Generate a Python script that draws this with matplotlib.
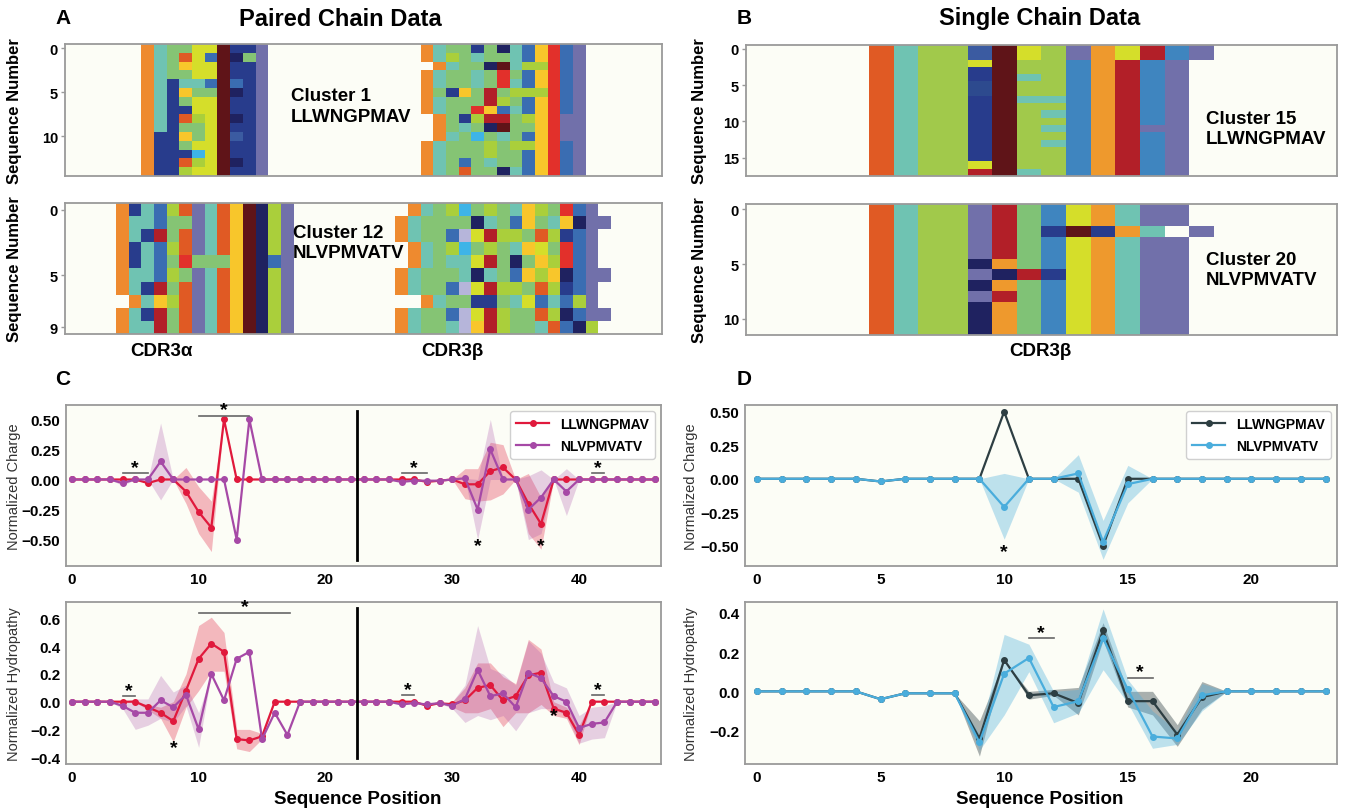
import numpy as np
import matplotlib.pyplot as plt
from matplotlib.colors import ListedColormap

# ------------------------------------------------------------
# Residue colours used in the heatmaps ('.' = no residue)
# ------------------------------------------------------------
palette = {
    'o': '#EE8A2F', 'O': '#EE992D', 't': '#6FC3B2', 'g': '#85C474',
    'G': '#80C276', 'L': '#A1C94B', 'l': '#AACF3B', 'y': '#D5DE2A',
    'Y': '#F8C62B', 'r': '#E05A24', 'R': '#E2302B', 'd': '#B21F28',
    'm': '#5F1418', 'n': '#1F2260', 'b': '#283C8C', 'K': '#2D4A8E',
    'k': '#3B5BA1', 'B': '#3A6DB2', 's': '#3F85BF', 'c': '#3EB4E7',
    'v': '#B6B5DA', 'p': '#7170AA',
}

# ------------------------------------------------------------
# Heatmap data (rows = sequences, columns = positions)
# ------------------------------------------------------------
pair_llw_alpha = ["otggyymbbp", "otgryBmngp", "otgYyymbbp", "otggyymbbp",
                  "otbttBmBbp", "otbYggmnbp", "otbgyymbbp", "otbbyymbbp",
                  "otbrlymnbp", "otbggymbbp", "obbYgymkbp", "obbgyymbbp",
                  "obbbcymbbp", "obbrlymnbp", "obblyymbbp"]
pair_llw_beta = ["otggbgntBYRBp", "otlgtggtBYRBp", ".otggnmtllRBp",
                 "otggtgRgBYRBp", "otggtgRtBYRBp", "ogbYgdglllRBp",
                 "otgggdlgBYRBp", "otggRYBtBYRBp", ".ogblddglYRpp",
                 ".ogtgnmggYRpp", ".otgcgtgBYRpp", "otggglgllYRBp",
                 "otggglggBYRBp", "otgBgtggBYRBp", "otgrggntBYRBp"]
pair_nlv_alpha = ["obtBlrptrYmnlp", "ottBggptrYmnlp", "otbdgrptrYmnlp",
                  "obtBlrptrYmnlp", "obtBgRgggYmnBp", "ottBlgptrYmnlp",
                  "otbdgrptrYmnlp", ".otYlrptrYmnlp", "otbdgrptrYmnlp",
                  "ottdgrptrYmnlp"]
pair_nlv_beta = [".otglcglgtYlgRBp.", "otggggntgBYgtYnpp",
                 "otggBvydllgrlbBp.", ".otglcglgtYygRBp.",
                 ".otgttydgngYlRBp.", "otgggtntgBYlYnBpp",
                 "otggBvydllgrlbBp.", "..otggbbgtyBtBlp.",
                 "otggBvydlggrlnBpp", "otggtvYdlggtrBnl."]

single_llw = (["rtLLkmyLpOydsp"] * 2 +
              ["rtLLymLLsOdsp.", "rtLLbmLLsOdsp.", "rtLLbmtLsOdsp.",
               "rtLLKmLLsOdsp.", "rtLLKmLLsOdsp.", "rtLLbmttsOdsp.",
               "rtLLbmLLsOdsp.", "rtLLbmLtsOdsp.", "rtLLbmLLsOdsp.",
               "rtLLbmLtsOdpp.", "rtLLbmLLsOdsp.", "rtLLbmLtsOdsp.",
               "rtLLbmLLsOdsp.", "rtLLbmLLsOdsp.", "rtLLymLLsOdsp.",
               "rtLLdmtLsOdsp."])
single_nlv = ["rtLLpdGsyOtpp.", "rtLLpdGsyOtpp.", "rtLLpdGbmbOt.p",
              "rtLLpdGsyOtpp.", "rtLLpdGsyOtpp.", "rtLLnOGsyOtpp.",
              "rtLLpndbyOtpp.", "rtLLnOGsyOtpp.", "rtLLpdGsyOtpp.",
              "rtLLnOGsyOtpp.", "rtLLnOGsyOtpp.", "rtLLnOGsyOtpp."]

pair_a_top = ["......" + a + "." * 12 + b + "......"
              for a, b in zip(pair_llw_alpha, pair_llw_beta)]
pair_a_bot = ["...." + a + "." * 8 + b + "...."
              for a, b in zip(pair_nlv_alpha, pair_nlv_beta)]
single_b_top = ["....." + r + "." * (19 - len(r)) for r in single_llw]
single_b_bot = ["....." + r + "." * (19 - len(r)) for r in single_nlv]

# ------------------------------------------------------------
# Profile data
# ------------------------------------------------------------
pos_pair = np.arange(47)
pos_single = np.arange(24)
alpha_beta_split = 22.5

c_charge_llw = [0, 0, 0, 0, 0, 0, -0.03, 0, 0, -0.10, -0.27, -0.40, 0.50, 0, 0, 0,
                0, 0, 0, 0, 0, 0, 0, 0, 0, 0, 0, 0, -0.02, -0.01, 0, -0.04, -0.04,
                0.07, 0.10, 0, -0.20, -0.37, 0, 0, 0, 0, 0, 0, 0, 0, 0]
c_charge_nlv = [0, 0, 0, 0, -0.03, 0, 0, 0.15, 0, 0, 0, 0, 0, -0.50, 0.50, 0,
                0, 0, 0, 0, 0, 0, 0, 0, 0, 0, -0.02, -0.01, -0.01, -0.01, 0, 0.01,
                -0.25, 0.25, 0, 0, -0.25, -0.15, 0, -0.10, 0, 0, 0, 0, 0, 0, 0]
c_charge_llw_band = {9: (-0.20, 0.10), 10: (-0.45, -0.06), 11: (-0.60, -0.18),
                     31: (-0.16, 0.09), 32: (-0.18, 0.09), 33: (-0.17, 0.31),
                     34: (-0.12, 0.29), 36: (-0.45, 0.05), 37: (-0.58, -0.15)}
c_charge_nlv_band = {4: (-0.05, 0.0), 7: (-0.17, 0.47), 32: (-0.50, 0.0),
                     33: (0.0, 0.50), 36: (-0.50, 0.03), 37: (-0.45, 0.08),
                     39: (-0.30, 0.09)}

c_hydro_llw = [0, 0, 0, 0, 0, 0, -0.04, -0.08, -0.14, 0.08, 0.31, 0.42, 0.36,
               -0.27, -0.28, -0.25, 0, 0, 0, 0, 0, 0, 0, 0, 0, 0, 0, 0, -0.03,
               -0.01, -0.02, 0.01, 0.10, 0.12, 0.01, 0.04, 0.19, 0.21, -0.05,
               -0.08, -0.24, 0, 0, 0, 0, 0, 0]
c_hydro_nlv = [0, 0, 0, 0, -0.03, -0.08, -0.08, 0.01, -0.04, 0.05, -0.20, 0.20,
               0.01, 0.31, 0.36, -0.27, -0.08, -0.24, 0, 0, 0, 0, 0, 0, 0, 0,
               -0.02, -0.01, -0.02, -0.01, -0.03, 0.02, 0.23, 0.04, 0.06, -0.04,
               0.21, 0.17, 0.04, 0.0, -0.19, -0.16, -0.15, 0, 0, 0, 0]
c_hydro_llw_band = {6: (-0.06, -0.02), 7: (-0.12, -0.04), 8: (-0.29, 0.0),
                    9: (-0.04, 0.20), 10: (0.08, 0.55), 11: (0.22, 0.61),
                    12: (0.22, 0.50), 13: (-0.34, -0.20), 14: (-0.36, -0.20),
                    15: (-0.27, -0.23), 30: (-0.04, 0.0), 31: (-0.08, 0.10),
                    32: (-0.08, 0.28), 33: (-0.05, 0.28), 34: (-0.18, 0.18),
                    35: (-0.08, 0.13), 36: (-0.08, 0.45), 37: (-0.02, 0.38),
                    38: (-0.10, 0.0), 39: (-0.12, -0.04), 40: (-0.31, -0.17)}
c_hydro_nlv_band = {4: (-0.05, 0.0), 5: (-0.20, 0.02), 6: (-0.17, 0.02),
                    7: (-0.12, 0.19), 8: (-0.15, 0.07), 9: (-0.03, 0.12),
                    10: (-0.33, -0.08), 30: (-0.05, 0.0), 31: (-0.15, 0.12),
                    32: (-0.10, 0.55), 33: (-0.13, 0.24), 34: (-0.10, 0.20),
                    35: (-0.21, 0.12), 36: (-0.08, 0.44), 37: (-0.05, 0.35),
                    38: (-0.05, 0.14), 39: (-0.10, 0.10), 40: (-0.30, -0.10),
                    41: (-0.27, -0.04), 42: (-0.26, -0.03)}

d_charge_llw = [0, 0, 0, 0, 0, -0.02, 0, 0, 0, 0, 0.50, 0, 0, 0, -0.50, 0,
                0, 0, 0, 0, 0, 0, 0, 0]
d_charge_nlv = [0, 0, 0, 0, 0, -0.02, 0, 0, 0, 0, -0.21, 0, 0, 0.04, -0.47, -0.04,
                0, 0, 0, 0, 0, 0, 0, 0]
d_charge_llw_band = {}
d_charge_nlv_band = {10: (-0.45, 0.04), 13: (-0.10, 0.18), 14: (-0.60, -0.31),
                     15: (-0.18, 0.10)}

d_hydro_llw = [0, 0, 0, 0, 0, -0.04, -0.01, -0.01, -0.01, -0.24, 0.16, -0.02,
               -0.01, -0.06, 0.31, -0.05, -0.05, -0.22, -0.03, 0, 0, 0, 0, 0]
d_hydro_nlv = [0, 0, 0, 0, 0, -0.04, -0.01, -0.01, -0.01, -0.26, 0.09, 0.17,
               -0.08, -0.05, 0.27, 0.01, -0.23, -0.24, -0.02, 0, 0, 0, 0, 0]
d_hydro_llw_band = {9: (-0.33, -0.15), 11: (-0.04, 0.0), 12: (-0.02, 0.01),
                    13: (-0.12, 0.02), 14: (0.26, 0.35), 15: (-0.08, 0.0),
                    16: (-0.12, 0.0), 17: (-0.28, -0.17), 18: (-0.09, 0.05)}
d_hydro_nlv_band = {9: (-0.30, -0.22), 10: (-0.12, 0.29), 11: (0.10, 0.24),
                    12: (-0.16, 0.0), 13: (-0.11, 0.01), 14: (0.11, 0.42),
                    15: (-0.06, 0.06), 16: (-0.29, -0.10), 17: (-0.27, -0.20),
                    18: (-0.10, 0.04)}

# significance: bars (x0, x1, y) and lone stars (x, y)
c_charge_bars = [(4, 6, 0.05), (10, 14, 0.53), (26, 28, 0.05), (41, 42, 0.05)]
c_charge_stars = [(32, -0.55), (37, -0.55)]
c_hydro_bars = [(4, 5, 0.04), (10, 17.2, 0.64), (26, 27, 0.045), (41, 42, 0.045)]
c_hydro_stars = [(8, -0.33), (38, -0.10)]
d_charge_bars = []
d_charge_stars = [(10, -0.54)]
d_hydro_bars = [(11, 12, 0.27), (15, 16, 0.07)]
d_hydro_stars = []

# ------------------------------------------------------------
# Style
# ------------------------------------------------------------
W, H = 1346, 812
bg = '#FCFDF6'
spine_col = '#9A9A9A'
plt.rcParams['font.family'] = ['Liberation Sans', 'DejaVu Sans']

keys = list(palette)
cmap = ListedColormap([palette[k] for k in keys])

fig = plt.figure(figsize=(W / 100, H / 100), dpi=100, facecolor='white')


def px_axes(x0, y0, x1, y1):
    return fig.add_axes([x0 / W, 1 - y1 / H, (x1 - x0) / W, (y1 - y0) / H])


def style_spines(ax):
    ax.set_facecolor(bg)
    for s in ax.spines.values():
        s.set_color(spine_col)
        s.set_linewidth(1.3)


def heatmap(ax, rows, yticks, label_x):
    mat = np.full((len(rows), len(rows[0])), np.nan)
    for i, row in enumerate(rows):
        for j, ch in enumerate(row):
            if ch != '.':
                mat[i, j] = keys.index(ch)
    ax.imshow(mat, cmap=cmap, vmin=-0.5, vmax=len(keys) - 0.5,
              aspect='auto', interpolation='nearest')
    style_spines(ax)
    ax.set_xticks([])
    ax.set_yticks(yticks)
    ax.tick_params(axis='y', length=3, width=1, color=spine_col, pad=2)
    for t in ax.get_yticklabels():
        t.set_fontweight('bold')
        t.set_fontsize(10.5)
    ax.set_ylabel('Sequence Number', fontsize=12, fontweight='bold')
    ax.yaxis.set_label_coords(label_x, 0.5)


def band_arrays(vals, band):
    lo = np.array(vals, dtype=float)
    hi = np.array(vals, dtype=float)
    for k, (a, b) in band.items():
        lo[k], hi[k] = a, b
    return lo, hi


def profile(ax, x, series, xlim, ylim, xticks, yticks, yfmt, ylabel, label_x,
            bars, stars, divider=None, legend=False):
    style_spines(ax)
    for vals, band, col, alpha, lab in series:
        lo, hi = band_arrays(vals, band)
        ax.fill_between(x, lo, hi, color=col, alpha=alpha, lw=0)
        ax.plot(x, vals, '-o', color=col, lw=1.6, ms=4, label=lab)
    if divider is not None:
        ax.axvline(divider, ymin=0.04, ymax=0.96, color='black', lw=2)
    for x0, x1, y in bars:
        ax.plot([x0, x1], [y, y], color='#666666', lw=1.2)
        ax.text((x0 + x1) / 2, y - 0.015 * (ylim[1] - ylim[0]), '*',
                ha='center', va='bottom', fontsize=14, fontweight='bold')
    for sx, sy in stars:
        ax.text(sx, sy, '*', ha='center', va='center', fontsize=14,
                fontweight='bold')
    ax.set_xlim(*xlim)
    ax.set_ylim(*ylim)
    ax.set_xticks(xticks)
    ax.set_yticks(yticks)
    ax.set_yticklabels([yfmt.format(v).replace('-', '\u2212') for v in yticks])
    ax.tick_params(length=0, pad=4, labelsize=11)
    for t in ax.get_xticklabels() + ax.get_yticklabels():
        t.set_fontweight('bold')
    ax.set_ylabel(ylabel, fontsize=10.5, color='#333333')
    ax.yaxis.set_label_coords(label_x, 0.5)
    if legend:
        leg = ax.legend(loc='upper right', prop={'weight': 'bold', 'size': 10},
                        handlelength=2.4, borderaxespad=0.45, framealpha=1,
                        edgecolor='#D0D0D0', fancybox=True, labelspacing=0.6)
        leg.get_frame().set_facecolor('white')


# ------------------------------------------------------------
# Heatmaps
# ------------------------------------------------------------
ax = px_axes(65, 45, 662, 177)
heatmap(ax, pair_a_top, [0, 5, 10], -0.072)
ax.text(0.378, 0.53, 'Cluster 1\nLLWNGPMAV', transform=ax.transAxes,
        fontsize=13.5, fontweight='bold', va='center', linespacing=1.25)

ax = px_axes(65, 204, 662, 335)
heatmap(ax, pair_a_bot, [0, 5, 9], -0.072)
ax.text(0.382, 0.70, 'Cluster 12\nNLVPMVATV', transform=ax.transAxes,
        fontsize=13.5, fontweight='bold', va='center', linespacing=1.25)

ax = px_axes(746, 46, 1337, 177)
heatmap(ax, single_b_top, [0, 5, 10, 15], -0.066)
ax.text(0.778, 0.36, 'Cluster 15\nLLWNGPMAV', transform=ax.transAxes,
        fontsize=13.5, fontweight='bold', va='center', linespacing=1.25)

ax = px_axes(746, 205, 1337, 336)
heatmap(ax, single_b_bot, [0, 5, 10], -0.066)
ax.text(0.778, 0.50, 'Cluster 20\nNLVPMVATV', transform=ax.transAxes,
        fontsize=13.5, fontweight='bold', va='center', linespacing=1.25)

# ------------------------------------------------------------
# Profiles
# ------------------------------------------------------------
red, purple = '#E0193C', '#A649A6'
dark, blue = '#2D3E42', '#4AADDC'

ax = px_axes(66, 406, 661, 567)
profile(ax, pos_pair,
        [(c_charge_llw, c_charge_llw_band, red, 0.3, 'LLWNGPMAV'),
         (c_charge_nlv, c_charge_nlv_band, purple, 0.25, 'NLVPMVATV')],
        (-0.46, 46.46), (-0.72, 0.62), [0, 10, 20, 30, 40],
        [-0.5, -0.25, 0, 0.25, 0.5], '{:.2f}', 'Normalized Charge', -0.075,
        c_charge_bars, c_charge_stars, divider=alpha_beta_split, legend=True)

ax = px_axes(66, 603, 661, 765)
profile(ax, pos_pair,
        [(c_hydro_llw, c_hydro_llw_band, red, 0.3, 'LLWNGPMAV'),
         (c_hydro_nlv, c_hydro_nlv_band, purple, 0.25, 'NLVPMVATV')],
        (-0.46, 46.46), (-0.45, 0.72), [0, 10, 20, 30, 40],
        [-0.4, -0.2, 0, 0.2, 0.4, 0.6], '{:.1f}', 'Normalized Hydropathy', -0.075,
        c_hydro_bars, c_hydro_stars, divider=alpha_beta_split)

ax = px_axes(745, 406, 1337, 567)
profile(ax, pos_single,
        [(d_charge_llw, d_charge_llw_band, dark, 0.4, 'LLWNGPMAV'),
         (d_charge_nlv, d_charge_nlv_band, blue, 0.35, 'NLVPMVATV')],
        (-0.48, 23.46), (-0.65, 0.55), [0, 5, 10, 15, 20],
        [-0.5, -0.25, 0, 0.25, 0.5], '{:.2f}', 'Normalized Charge', -0.08,
        d_charge_bars, d_charge_stars, legend=True)

ax = px_axes(745, 603, 1337, 765)
profile(ax, pos_single,
        [(d_hydro_llw, d_hydro_llw_band, dark, 0.4, 'LLWNGPMAV'),
         (d_hydro_nlv, d_hydro_nlv_band, blue, 0.35, 'NLVPMVATV')],
        (-0.48, 23.46), (-0.37, 0.455), [0, 5, 10, 15, 20],
        [-0.2, 0, 0.2, 0.4], '{:.1f}', 'Normalized Hydropathy', -0.08,
        d_hydro_bars, d_hydro_stars)

# ------------------------------------------------------------
# Figure text
# ------------------------------------------------------------
def ftext(x, y, s, size, **kw):
    fig.text(x / W, 1 - y / H, s, fontsize=size, fontweight='bold',
             ha=kw.pop('ha', 'center'), va='center', **kw)

ftext(340, 19, 'Paired Chain Data', 17)
ftext(1040, 19, 'Single Chain Data', 17)
ftext(55, 19, 'A', 15, ha='left')
ftext(737, 19, 'B', 15, ha='left')
ftext(55, 380, 'C', 15, ha='left')
ftext(737, 380, 'D', 15, ha='left')
ftext(161, 352, 'CDR3\u03b1', 13.5)
ftext(452, 352, 'CDR3\u03b2', 13.5)
ftext(1040, 352, 'CDR3\u03b2', 13.5)
ftext(358, 800, 'Sequence Position', 13.5)
ftext(1040, 800, 'Sequence Position', 13.5)

fig.savefig('out.png', dpi=100, facecolor='white')
